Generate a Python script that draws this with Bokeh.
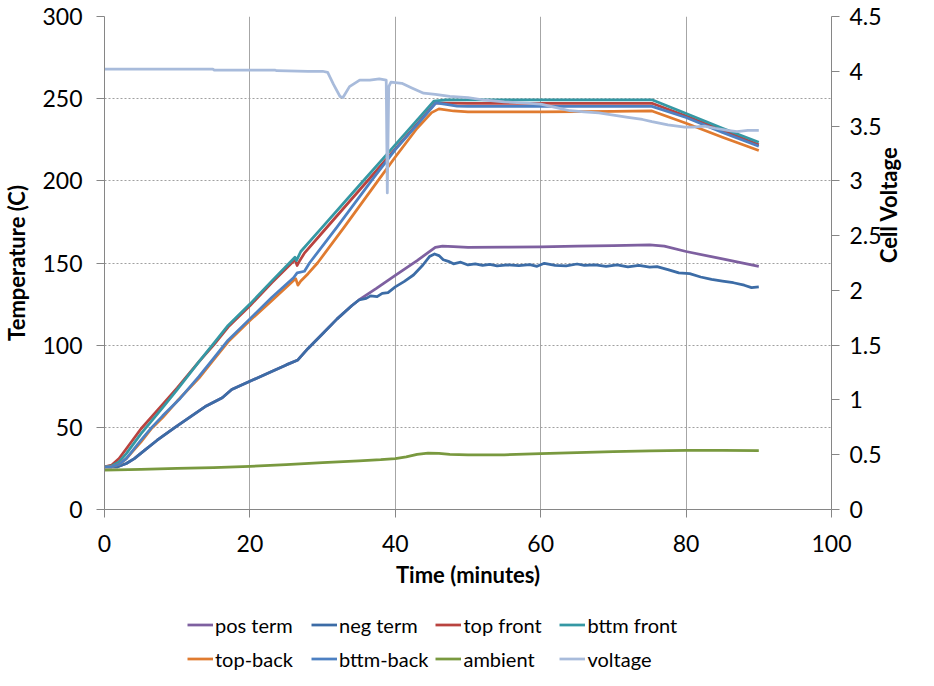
import math
from bokeh.plotting import figure
from bokeh.layouts import column
from bokeh.models import (Range1d, LinearAxis, Legend, LegendItem,
                          CustomJSTickFormatter, FixedTicker)
from bokeh.embed import file_html
from bokeh.resources import INLINE

FONT = "Lato"

# ---------------- data ----------------
x_ticks = [0, 20, 40, 60, 80, 100]
y_ticks = [0, 50, 100, 150, 200, 250, 300]
v_ticks = [0, 0.5, 1, 1.5, 2, 2.5, 3, 3.5, 4, 4.5]

pos_t = [0, 1.8, 3, 4.1, 5.5, 7.2, 9.7, 12, 14, 16.2, 17.5, 20, 23, 25, 26.6, 28, 30, 32, 34, 35,
         37.4, 40, 43, 45.5, 46.5, 48, 50, 55, 60, 65, 70, 75, 77, 80, 85, 90]
pos_T = [26, 26, 28, 31, 36, 42, 50, 57, 63, 68, 73, 78, 84, 88, 91, 98, 107, 116, 124, 127.5,
         134.5, 142.5, 151.5, 159.5, 160.3, 160, 159.5, 159.6, 159.8, 160.2, 160.5, 161, 160.3, 157, 152.5, 148]

neg_t = [0, 1.8, 3, 4.1, 5.5, 7.2, 9.7, 12, 14, 16.2, 17.5, 20, 23, 25, 26.6, 28, 30, 32, 34, 35,
         36, 36.6, 37.5, 38.2, 39, 40, 41.2, 42.5, 43.8, 44.7, 45.4, 46, 46.6, 47.3, 48, 49, 50, 51, 52, 53,
         54, 55.5, 57, 58.5, 59.5, 60.5, 62, 63.5, 65, 66, 67.5, 69, 70.5, 72, 73.5, 75, 76, 77.5, 79, 80.5,
         82, 83.5, 85, 86.5, 88, 89, 90]
neg_T = [26, 26, 28, 31, 36, 42, 50, 57, 63, 68, 73, 78, 84, 88, 91, 98, 107, 116, 124, 127.5,
         128.5, 130, 129.5, 131.5, 132, 135.5, 138.7, 142.7, 148.8, 153.9, 155.5, 154.5, 152, 151, 149.5, 150.5,
         148.8, 149.5, 148.5, 149.2, 148.3, 148.8, 148.4, 149, 148, 149.8, 148.6, 148.2, 149.4, 148.5,
         148.8, 148, 148.9, 147.6, 148.5, 147.5, 147.8, 146, 144, 143.5, 141.5, 140, 139, 138, 136.5, 135, 135.5]

tf_t = [0, 1, 2, 3, 5, 8, 10, 13, 15, 17, 20, 23, 26.2, 26.5, 26.8, 27.5, 30, 34.9, 38.8, 41.9,
        45.5, 47, 50, 60, 70, 75.3, 80, 85, 90]
tf_T = [26, 27, 31, 37, 49, 64, 74, 90, 100, 111, 124, 138, 152, 148.5, 151, 156, 168.7, 193.5, 213.3, 229,
        247.3, 247.3, 247.2, 247.2, 247.2, 247.2, 239.5, 230.8, 222]

bf_t = [0, 1, 2, 3, 5, 8, 10, 13, 15, 17, 20, 23, 26.2, 26.4, 27, 30, 35, 38.8, 41.9, 45.3,
        47, 50, 60, 70, 75.3, 80, 85, 90]
bf_T = [26, 26.5, 29, 34, 46, 62, 73, 90, 101, 112, 125, 139, 153.5, 151.5, 157, 172, 197, 216, 231.5, 248.5,
        249.2, 249.3, 249.3, 249.3, 249.3, 241, 232, 223.5]

tb_t = [0, 1, 2, 3, 5, 6.5, 8, 10, 13, 15, 17, 20, 23, 26.3, 26.6, 27, 28, 29.3, 33, 37.6,
        40, 43, 45, 46, 48, 50, 60, 70, 75.3, 80, 85, 90]
tb_T = [26, 26, 27.5, 31, 41, 49.5, 56, 66, 80, 91, 102, 115, 127, 140.5, 136.5, 139, 143.5, 150, 172, 200,
        214.5, 232, 241.5, 243.8, 242.5, 242, 242, 242.2, 242.5, 235, 226.5, 218.5]

bb_t = [0, 1, 2, 3, 5, 6.5, 8, 10.4, 13, 15, 17, 20, 23, 26, 26.5, 27.5, 28.2, 32, 36.7, 40,
        43, 45.6, 47, 48.5, 50, 60, 70, 75.3, 80, 85, 90]
bb_T = [26, 26, 27.5, 31, 42, 50, 57, 67.6, 81, 92, 103, 116, 129, 141, 144, 145, 150, 172, 200, 219,
        234, 247.5, 246.5, 245.5, 245.3, 245.3, 245.3, 245.3, 238.5, 229.5, 221]

amb_t = [0, 5, 10, 15, 20, 25, 30, 35, 38, 40, 41.5, 43, 44.5, 46, 47.5, 50, 55, 60, 65, 70, 75, 80, 85, 90]
amb_T = [24, 24.4, 25, 25.5, 26.3, 27.3, 28.5, 29.6, 30.3, 31, 32, 33.5, 34.3, 34.2, 33.6, 33.2, 33.3, 34,
         34.6, 35.2, 35.6, 36, 36, 35.8]

v_t = [0, 5, 10, 14.9, 15.1, 20, 23.5, 23.7, 28, 30, 30.7, 31.5, 32.4, 32.8, 33.7, 35.1, 36.5, 37.8, 38.75, 38.9,
       39.1, 39.4, 40.9, 42.2, 43.9, 45.5, 47.5, 50, 52, 55, 58, 60, 62, 64, 66, 68, 70, 72, 74, 75.3,
       77.5, 79.8, 81, 82.5, 84, 85.7, 87, 88.5, 90]
v_V = [4.02, 4.02, 4.02, 4.02, 4.01, 4.01, 4.01, 4.005, 4.0, 4.0, 3.99, 3.88, 3.77, 3.76, 3.86, 3.92, 3.92, 3.93, 3.92, 2.89,
       3.86, 3.90, 3.89, 3.85, 3.80, 3.79, 3.77, 3.76, 3.74, 3.72, 3.71, 3.70, 3.67, 3.64, 3.63, 3.62, 3.60, 3.58, 3.56, 3.54,
       3.51, 3.49, 3.49, 3.50, 3.48, 3.46, 3.45, 3.46, 3.46]

series = [
    ("pos term", pos_t, pos_T, "#7E60A0", "default"),
    ("neg term", neg_t, neg_T, "#3C6CA6", "default"),
    ("top front", tf_t, tf_T, "#B9433F", "default"),
    ("bttm front", bf_t, bf_T, "#3598A4", "default"),
    ("top-back", tb_t, tb_T, "#E07B30", "default"),
    ("bttm-back", bb_t, bb_T, "#4D80C2", "default"),
    ("ambient", amb_t, amb_T, "#79993F", "default"),
    ("voltage", v_t, v_V, "#A8BBDB", "v"),
]

LW = 2.75

# ---------------- main figure ----------------
p = figure(width=918, height=593, output_backend="svg", toolbar_location=None,
           x_range=Range1d(0, 100), y_range=Range1d(0, 300),
           min_border_left=103, min_border_right=84, min_border_top=16, min_border_bottom=84)
p.outline_line_color = None
p.background_fill_color = "white"
p.border_fill_color = "white"
p.extra_y_ranges = {"v": Range1d(0, 4.5)}

p.xaxis.ticker = FixedTicker(ticks=x_ticks)
p.yaxis.ticker = FixedTicker(ticks=y_ticks)
p.xaxis.axis_label = "Time (minutes)"
p.yaxis.axis_label = "Temperature (C)"

ax2 = LinearAxis(y_range_name="v", ticker=FixedTicker(ticks=v_ticks),
                 formatter=CustomJSTickFormatter(code="return String(Math.round(tick*10)/10);"),
                 axis_label="Cell Voltage")
p.add_layout(ax2, "right")
ax2.axis_label_orientation = math.pi / 2

for ax in [p.xaxis[0], p.yaxis[0], ax2]:
    ax.axis_line_color = "#868686"
    ax.major_tick_line_color = "#868686"
    ax.major_tick_out = 8
    ax.major_tick_in = 0
    ax.minor_tick_line_color = None
    ax.major_label_text_font = FONT
    ax.major_label_text_font_size = "23px"
    ax.major_label_text_color = "#000000"
    ax.axis_label_text_font = FONT
    ax.axis_label_text_font_style = "bold"
    ax.axis_label_text_font_size = "22px"
    ax.axis_label_text_color = "#000000"

p.xaxis.major_label_standoff = 17
p.xaxis.axis_label_standoff = 6
p.yaxis.major_label_standoff = 14
p.yaxis.axis_label_standoff = 9
ax2.major_label_standoff = 10
ax2.axis_label_standoff = 4

p.xgrid.grid_line_color = "#A6A6A6"
p.xgrid.grid_line_width = 1
p.ygrid.grid_line_color = "#A0A0A0"
p.ygrid.grid_line_width = 1
p.ygrid.grid_line_dash = "2 2"

for name, t, y, col, rng in series:
    kw = {} if rng == "default" else {"y_range_name": rng}
    p.line(t, y, line_color=col, line_width=LW, line_join="round", **kw)

# ---------------- legend strip below the chart ----------------
leg = figure(width=918, height=77, output_backend="svg", toolbar_location=None,
             x_range=Range1d(0, 1), y_range=Range1d(0, 1),
             x_axis_location=None, y_axis_location=None,
             min_border_left=0, min_border_right=0, min_border_top=0, min_border_bottom=0)
leg.outline_line_color = None
leg.grid.visible = False
leg.border_fill_color = "white"

items = []
for name, t, y, col, rng in series:
    # placeholder renderer (draws nothing) so the legend can show the key line
    r = leg.line(x=[float("nan")], y=[float("nan")], line_color=col, line_width=LW)
    items.append(LegendItem(label=name, renderers=[r]))

legend = Legend(items=items, orientation="horizontal", ncols=4, location=(83, -2),
                glyph_width=26, glyph_height=27, label_height=27, label_width=89,
                label_standoff=2, spacing=7, padding=0, margin=0,
                border_line_color=None, background_fill_alpha=0,
                label_text_font=FONT, label_text_font_size="20px", label_text_color="#000000")
leg.add_layout(legend)

layout = column(p, leg, spacing=0)
open("out.html", "w").write(file_html(layout, INLINE))
